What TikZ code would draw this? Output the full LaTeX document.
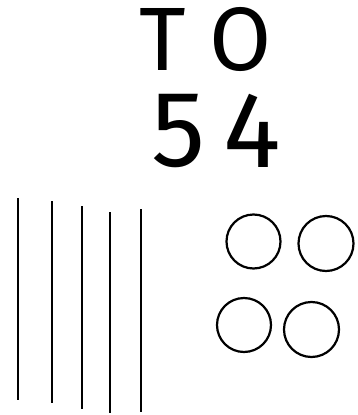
\documentclass[tikz,border=0pt]{standalone}
\usepackage{fontspec}
\setmainfont{Fira Sans}
\begin{document}
\begin{tikzpicture}[x=1pt,y=-1pt,
  glyphbig/.style={inner sep=0pt,anchor=base,font=\fontsize{90}{90}\selectfont},
  digitbig/.style={inner sep=0pt,anchor=base,font=\fontsize{108}{108}\selectfont},
  stroke/.style={line width=2pt,black},
  ring/.style={line width=2.2pt,black}]
\useasboundingbox (0,0) rectangle (357,415);
% letters
\node[glyphbig] (t) at (163,70) {T};
\node[glyphbig] (o) at (240.5,70) {O};
\node[digitbig] (five) at (178.5,166) {5};
\node[digitbig] (four) at (252,167) {4};
% vertical strokes
\coordinate (l1a) at (18,198);  \coordinate (l1b) at (18,400);
\coordinate (l2a) at (52,201);  \coordinate (l2b) at (52,403);
\coordinate (l3a) at (82,206);  \coordinate (l3b) at (82,409);
\coordinate (l4a) at (110,212); \coordinate (l4b) at (110,413);
\coordinate (l5a) at (141,209); \coordinate (l5b) at (141,412);
\draw[stroke] (l1a) -- (l1b);
\draw[stroke] (l2a) -- (l2b);
\draw[stroke] (l3a) -- (l3b);
\draw[stroke] (l4a) -- (l4b);
\draw[stroke] (l5a) -- (l5b);
% circles
\node[ring,draw,circle,minimum size=54pt,inner sep=0pt] (c1) at (253.5,241.5) {};
\node[ring,draw,circle,minimum size=55pt,inner sep=0pt] (c2) at (326,243.5) {};
\node[ring,draw,circle,minimum size=54pt,inner sep=0pt] (c3) at (244,325) {};
\node[ring,draw,circle,minimum size=55pt,inner sep=0pt] (c4) at (311.5,329.5) {};
\end{tikzpicture}
\end{document}
